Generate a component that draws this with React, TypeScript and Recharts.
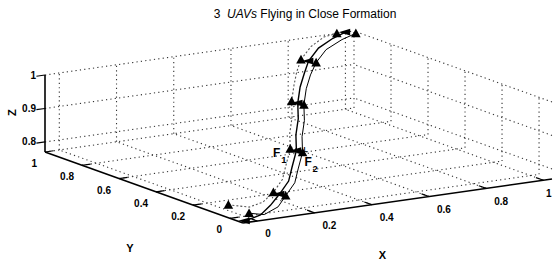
import { ComposedChart, Line, Scatter, XAxis, YAxis } from "recharts";

const W = 554;
const H = 261;

// axis limits of the 3-D box
const X_LIM = [-0.05, 1.03];
const Y_LIM = [-0.07, 1.0];
const Z_LIM = [0.77, 1.0];

const X_TICKS = [0, 0.2, 0.4, 0.6, 0.8, 1];
const Y_TICKS = [0, 0.2, 0.4, 0.6, 0.8, 1];
const Z_TICKS = [0.8, 0.9, 1];

// leader (L) trajectory
const LEAD_X = [-0.03, 0.05, 0.13, 0.22, 0.31, 0.38, 0.46, 0.51, 0.57, 0.62, 0.68, 0.74, 0.8, 0.88, 0.95, 1.0];
const LEAD_Y = [-0.05, -0.01, 0.06, 0.15, 0.24, 0.33, 0.43, 0.51, 0.59, 0.67, 0.75, 0.82, 0.89, 0.96, 0.99, 1.0];
const LEAD_Z = [0.77, 0.77, 0.775, 0.78, 0.79, 0.805, 0.825, 0.85, 0.875, 0.9, 0.925, 0.945, 0.96, 0.975, 0.99, 1.0];

// follower F1
const F1_X = [-0.03, 0.03, 0.11, 0.205, 0.295, 0.365, 0.445, 0.495, 0.555, 0.605, 0.665, 0.72, 0.78, 0.86, 0.925, 0.97];
const F1_Y = [0.04, 0.02, 0.07, 0.16, 0.25, 0.34, 0.44, 0.52, 0.6, 0.68, 0.76, 0.83, 0.9, 0.97, 1.0, 1.0];
const F1_Z = [0.8, 0.79, 0.785, 0.785, 0.795, 0.81, 0.83, 0.855, 0.88, 0.905, 0.93, 0.95, 0.965, 0.98, 0.995, 1.0];

// follower F2
const F2_X = [0.01, 0.05, 0.15, 0.235, 0.325, 0.395, 0.475, 0.525, 0.585, 0.635, 0.695, 0.755, 0.82, 0.9, 0.975, 1.03];
const F2_Y = [-0.01, -0.03, 0.05, 0.14, 0.23, 0.32, 0.42, 0.5, 0.58, 0.66, 0.74, 0.81, 0.88, 0.95, 0.98, 0.99];
const F2_Z = [0.78, 0.775, 0.77, 0.775, 0.785, 0.8, 0.82, 0.845, 0.87, 0.895, 0.92, 0.94, 0.955, 0.97, 0.985, 0.995];

// view: screen position of the (xmin,ymin,zmin) corner and of the three box edges
const ORIGIN = [243, 223];
const EDGE_X = [309, -44];
const EDGE_Y = [-198, -71];
const EDGE_Z = [0, -77];

const FONT = "'Liberation Sans', Arial, sans-serif";

type Pt = { sx: number; sy: number; text?: string };

function project(x: number, y: number, z: number, text?: string): Pt {
  const u = (x - X_LIM[0]) / (X_LIM[1] - X_LIM[0]);
  const v = (y - Y_LIM[0]) / (Y_LIM[1] - Y_LIM[0]);
  const w = (z - Z_LIM[0]) / (Z_LIM[1] - Z_LIM[0]);
  return {
    sx: ORIGIN[0] + u * EDGE_X[0] + v * EDGE_Y[0] + w * EDGE_Z[0],
    sy: ORIGIN[1] + u * EDGE_X[1] + v * EDGE_Y[1] + w * EDGE_Z[1],
    text,
  };
}

const path = (xs: number[], ys: number[], zs: number[]) => xs.map((x, i) => project(x, ys[i], zs[i]));

const [x0, x1] = X_LIM;
const [y0, y1] = Y_LIM;
const [z0, z1] = Z_LIM;

// dotted grid on the floor and the two back walls
const gridSegs: Pt[][] = [
  ...X_TICKS.map((x) => [project(x, y0, z0), project(x, y1, z0)]),
  ...Y_TICKS.map((y) => [project(x0, y, z0), project(x1, y, z0)]),
  ...X_TICKS.map((x) => [project(x, y1, z0), project(x, y1, z1)]),
  ...Z_TICKS.map((z) => [project(x0, y1, z), project(x1, y1, z)]),
  ...Y_TICKS.map((y) => [project(x1, y, z0), project(x1, y, z1)]),
  ...Z_TICKS.map((z) => [project(x1, y0, z), project(x1, y1, z)]),
];

const axisSegs: Pt[][] = [
  [project(x0, y0, z0), project(x1, y0, z0)],
  [project(x0, y0, z0), project(x0, y1, z0)],
  [project(x0, y1, z0), project(x0, y1, z1)],
];

const tickSegs: Pt[][] = [
  ...X_TICKS.map((x) => [project(x, y0, z0), project(x, y0 + 0.04, z0)]),
  ...Y_TICKS.map((y) => [project(x0, y, z0), project(x0 + 0.03, y, z0)]),
  ...Z_TICKS.map((z) => [project(x0, y1, z), project(x0 - 0.03, y1, z)]),
];

const xLabels = X_TICKS.map((x) => project(x, y0, z0, String(x)));
const yLabels = Y_TICKS.map((y) => project(x0, y, z0, String(y)));
const zLabels = Z_TICKS.map((z) => project(x0, y1, z, String(z)));

const leader = path(LEAD_X, LEAD_Y, LEAD_Z);
const f1 = path(F1_X, F1_Y, F1_Z);
const f2 = path(F2_X, F2_Y, F2_Z);

const tri = (kind: "up" | "left") => (props: any) => {
  const { cx, cy, index } = props;
  if (index % 3 !== 0 || cx == null) return <g key={`d${index}`} />;
  const s = 4.8;
  const d =
    kind === "up"
      ? `M${cx},${cy - s} L${cx + s},${cy + s * 0.8} L${cx - s},${cy + s * 0.8}Z`
      : `M${cx - s * 1.4},${cy} L${cx + s},${cy - s * 0.7} L${cx + s},${cy + s * 0.7}Z`;
  return <path key={`d${index}`} d={d} fill="#000" />;
};

const textShape =
  (dx: number, dy: number, anchor: string, size = 10, weight = "bold", rotate = 0) =>
  (p: any) => {
    const x = Math.min(p.cx + dx, W - 8);
    const y = p.cy + dy;
    return (
      <text
        x={x}
        y={y}
        textAnchor={anchor}
        fontSize={size}
        fontWeight={weight}
        fontFamily={FONT}
        fill="#000"
        transform={rotate ? `rotate(${rotate} ${x} ${y})` : undefined}
      >
        {p.payload.text}
      </text>
    );
  };

export default function App() {
  return (
    <div style={{ position: "absolute", left: 0, top: 0, width: W, height: H, background: "#fff" }}>
      <div
        style={{
          position: "absolute",
          left: 155,
          top: 7,
          width: 300,
          textAlign: "center",
          fontFamily: FONT,
          fontSize: 12,
          lineHeight: "14px",
          color: "#000",
          zIndex: 1,
        }}
      >
        3&nbsp; <i>UAVs</i> Flying in Close Formation
      </div>
      <ComposedChart width={W} height={H} margin={{ top: 0, right: 0, bottom: 0, left: 0 }}>
        <XAxis type="number" dataKey="sx" domain={[0, W]} allowDataOverflow hide />
        <YAxis type="number" dataKey="sy" domain={[0, H]} allowDataOverflow reversed hide />

        {gridSegs.map((seg, i) => (
          <Line
            key={`g${i}`}
            data={seg}
            dataKey="sy"
            stroke="#333"
            strokeWidth={1.1}
            strokeDasharray="1.2 3.2"
            dot={false}
            activeDot={false}
            isAnimationActive={false}
          />
        ))}
        {axisSegs.map((seg, i) => (
          <Line key={`a${i}`} data={seg} dataKey="sy" stroke="#000" strokeWidth={1.6} dot={false} activeDot={false} isAnimationActive={false} />
        ))}
        {tickSegs.map((seg, i) => (
          <Line key={`t${i}`} data={seg} dataKey="sy" stroke="#000" strokeWidth={1.2} dot={false} activeDot={false} isAnimationActive={false} />
        ))}

        <Line data={f1} dataKey="sy" stroke="#555" strokeWidth={1.1} strokeDasharray="2 2" dot={tri("up")} activeDot={false} isAnimationActive={false} />
        <Line data={leader} dataKey="sy" stroke="#000" strokeWidth={1.4} dot={tri("left")} activeDot={false} isAnimationActive={false} />
        <Line data={f2} dataKey="sy" stroke="#000" strokeWidth={1} dot={tri("up")} activeDot={false} isAnimationActive={false} />

        <Scatter data={xLabels} shape={textShape(8, 16.5, "start")} isAnimationActive={false} />
        <Scatter data={yLabels} shape={textShape(-8, 15, "end")} isAnimationActive={false} />
        <Scatter data={zLabels} shape={textShape(-9, 3.5, "end")} isAnimationActive={false} />

        <Scatter data={[project(0.49, y0, z0, "X")]} shape={textShape(-15, 58, "middle", 11)} isAnimationActive={false} />
        <Scatter data={[project(x0, 0.465, z0, "Y")]} shape={textShape(-14, 64, "middle", 11)} isAnimationActive={false} />
        <Scatter data={[project(x0, y1, 0.885, "Z")]} shape={textShape(-29, -1, "middle", 11, "bold", -90)} isAnimationActive={false} />

        <Scatter data={[project(F1_X[6], F1_Y[6], F1_Z[6], "F")]} shape={textShape(-10, 8, "end", 12)} isAnimationActive={false} />
        <Scatter data={[project(F1_X[6], F1_Y[6], F1_Z[6], "1")]} shape={textShape(-9, 14, "start", 9.5)} isAnimationActive={false} />
        <Scatter data={[project(F2_X[6], F2_Y[6], F2_Z[6], "F")]} shape={textShape(2, 14, "start", 12)} isAnimationActive={false} />
        <Scatter data={[project(F2_X[6], F2_Y[6], F2_Z[6], "2")]} shape={textShape(10, 20, "start", 9.5)} isAnimationActive={false} />
        <Scatter data={[project(LEAD_X[6], LEAD_Y[6], LEAD_Z[6], "L")]} shape={textShape(7, 1, "start", 7)} isAnimationActive={false} />
      </ComposedChart>
    </div>
  );
}
